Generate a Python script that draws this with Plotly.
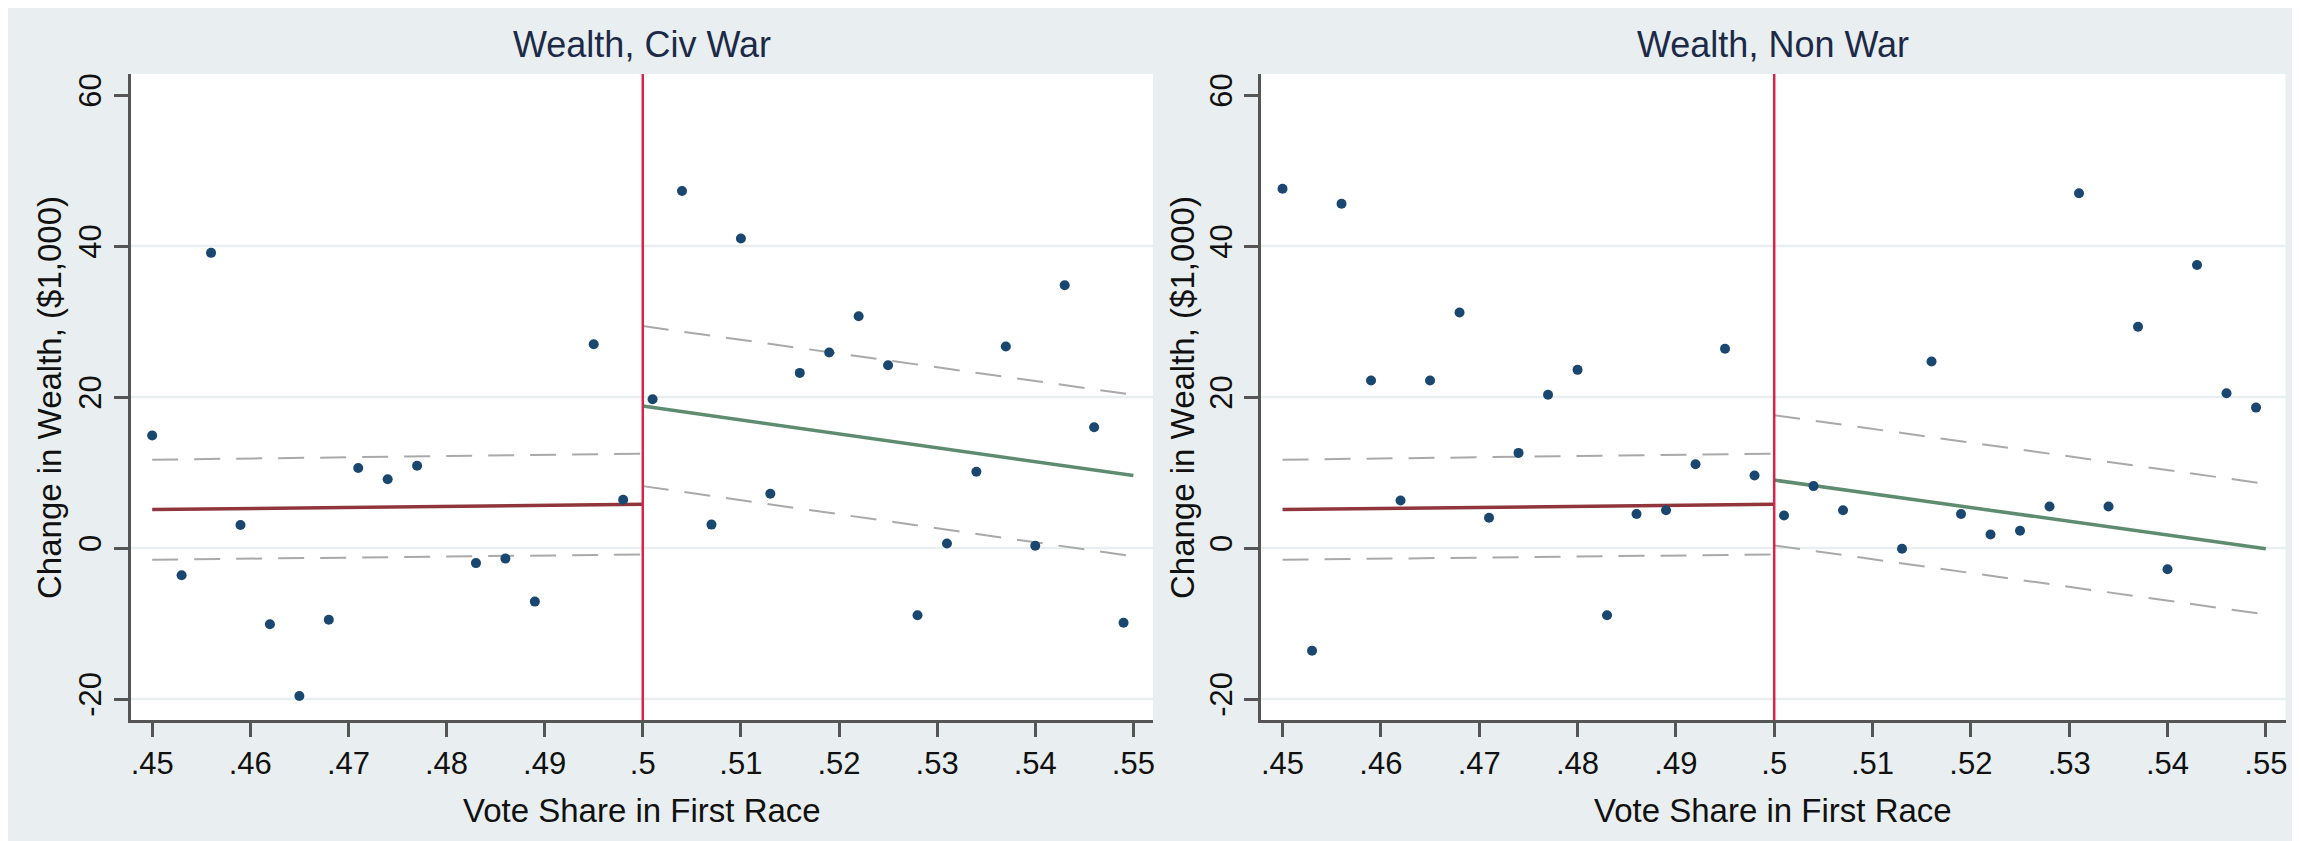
import plotly.graph_objects as go

# ---------------- data ----------------
panel_titles = ["Wealth, Civ War", "Wealth, Non War"]
x_title = "Vote Share in First Race"
y_title = "Change in Wealth, ($1,000)"

x_ticks = [0.45, 0.46, 0.47, 0.48, 0.49, 0.50, 0.51, 0.52, 0.53, 0.54, 0.55]
x_ticklabels = [".45", ".46", ".47", ".48", ".49", ".5", ".51", ".52", ".53", ".54", ".55"]
y_ticks = [-20, 0, 20, 40, 60]
y_ticklabels = ["-20", "0", "20", "40", "60"]
grid_values = [-20, 0, 20, 40]
cutoff = 0.5

# Panel 1: Civ War
civ_x = [0.450, 0.453, 0.456, 0.459, 0.462, 0.465, 0.468, 0.471, 0.474, 0.477,
         0.483, 0.486, 0.489, 0.495, 0.498, 0.501, 0.504, 0.507, 0.510, 0.513,
         0.516, 0.519, 0.522, 0.525, 0.528, 0.531, 0.534, 0.537, 0.540, 0.543,
         0.546, 0.549]
civ_y = [14.9, -3.6, 39.1, 3.05, -10.1, -19.6, -9.5, 10.6, 9.1, 10.9,
         -2.0, -1.4, -7.1, 27.0, 6.4, 19.7, 47.3, 3.1, 41.0, 7.2,
         23.2, 25.9, 30.7, 24.2, -8.9, 0.6, 10.1, 26.7, 0.3, 34.8,
         16.0, -9.9]

# Panel 2: Non War
non_x = [0.450, 0.453, 0.456, 0.459, 0.462, 0.465, 0.468, 0.471, 0.474, 0.477,
         0.480, 0.483, 0.486, 0.489, 0.492, 0.495, 0.498, 0.501, 0.504, 0.507,
         0.513, 0.516, 0.519, 0.522, 0.525, 0.528, 0.531, 0.534, 0.537, 0.540,
         0.543, 0.546, 0.549]
non_y = [47.6, -13.6, 45.6, 22.2, 6.3, 22.2, 31.2, 4.0, 12.6, 20.3,
         23.6, -8.9, 4.5, 5.0, 11.1, 26.4, 9.6, 4.3, 8.2, 5.0,
         -0.1, 24.7, 4.5, 1.8, 2.3, 5.5, 47.0, 5.5, 29.3, -2.8,
         37.5, 20.5, 18.6]

# Fitted lines and confidence bands (endpoints)
left_fit_x = [0.45, 0.50]
right_fit_x = [0.50, 0.55]

civ_left_fit = [5.1, 5.8]
civ_left_hi = [11.7, 12.5]
civ_left_lo = [-1.55, -0.85]
civ_right_fit = [18.8, 9.6]
civ_right_hi = [29.4, 20.3]
civ_right_lo = [8.2, -1.1]

non_left_fit = [5.1, 5.8]
non_left_hi = [11.7, 12.5]
non_left_lo = [-1.55, -0.85]
non_right_fit = [9.0, -0.1]
non_right_hi = [17.6, 8.5]
non_right_lo = [0.35, -8.8]

# ---------------- styles ----------------
BG = "#e9eff0"
GRID = "#e9eff0"
AXIS = "#555555"
NAVY = "#1a476f"
MAROON = "#90353b"
GREEN = "#5e8c70"
CRIMSON = "#d6254a"
CIGRAY = "#a9a9a9"
FONT = "Liberation Sans, Arial, Helvetica, sans-serif"
TITLE_COLOR = "#1c2a48"

W, H = 2300, 841
x_domains = [[122.7 / W, 1146.0 / W], [1254.0 / W, 2279.5 / W]]
y_domain = [(H - 712.0) / H, (H - 65.0) / H]

fig = go.Figure()

panels = [
    (civ_x, civ_y, civ_left_fit, civ_left_hi, civ_left_lo, civ_right_fit, civ_right_hi, civ_right_lo),
    (non_x, non_y, non_left_fit, non_left_hi, non_left_lo, non_right_fit, non_right_hi, non_right_lo),
]

for i, (px, py, lf, lh, ll, rf, rh, rl) in enumerate(panels):
    xa = "x" if i == 0 else "x2"
    ya = "y" if i == 0 else "y2"
    dash_style = dict(color=CIGRAY, width=2, dash="26px,16px")
    for yy in (lh, ll):
        fig.add_trace(go.Scatter(x=left_fit_x, y=yy, mode="lines", line=dash_style,
                                 xaxis=xa, yaxis=ya, showlegend=False, hoverinfo="skip"))
    for yy in (rh, rl):
        fig.add_trace(go.Scatter(x=right_fit_x, y=yy, mode="lines", line=dash_style,
                                 xaxis=xa, yaxis=ya, showlegend=False, hoverinfo="skip"))
    fig.add_trace(go.Scatter(x=left_fit_x, y=lf, mode="lines", line=dict(color=MAROON, width=3.5),
                             xaxis=xa, yaxis=ya, showlegend=False))
    fig.add_trace(go.Scatter(x=right_fit_x, y=rf, mode="lines", line=dict(color=GREEN, width=3.5),
                             xaxis=xa, yaxis=ya, showlegend=False))
    fig.add_trace(go.Scatter(x=px, y=py, mode="markers",
                             marker=dict(color=NAVY, size=10, line=dict(width=0)),
                             xaxis=xa, yaxis=ya, showlegend=False))

    # grid lines
    for g in grid_values:
        fig.add_shape(type="line", xref=f"{xa} domain", yref=ya, x0=0, x1=1, y0=g, y1=g,
                      line=dict(color=GRID, width=2.5), layer="below")
    # cutoff line
    fig.add_shape(type="line", xref=xa, yref=f"{ya} domain", x0=cutoff, x1=cutoff, y0=0, y1=1,
                  line=dict(color=CRIMSON, width=2.5), layer="above")

    cx = (x_domains[i][0] + x_domains[i][1]) / 2
    fig.add_annotation(text=panel_titles[i], xref="paper", yref="paper", x=cx, y=1 - 36.0 / H,
                       showarrow=False, font=dict(size=36, color=TITLE_COLOR, family=FONT),
                       xanchor="center", yanchor="middle")
    fig.add_annotation(text=x_title, xref="paper", yref="paper", x=cx, y=1 - 802.0 / H,
                       showarrow=False, font=dict(size=33, color="#111111", family=FONT),
                       xanchor="center", yanchor="middle")
    yx = 41.0 / W if i == 0 else 1175.0 / W
    fig.add_annotation(text=y_title, xref="paper", yref="paper", x=yx,
                       y=(y_domain[0] + y_domain[1]) / 2, textangle=-90,
                       showarrow=False, font=dict(size=33, color="#111111", family=FONT),
                       xanchor="center", yanchor="middle")

axis_common = dict(showline=True, linecolor=AXIS, linewidth=2.5, ticks="outside",
                   ticklen=14, tickwidth=2.5, tickcolor=AXIS, showgrid=False, zeroline=False,
                   mirror=False, tickfont=dict(size=31, color="#111111", family=FONT))

for i in range(2):
    xk = "xaxis" if i == 0 else "xaxis2"
    yk = "yaxis" if i == 0 else "yaxis2"
    fig.update_layout(**{
        xk: dict(domain=x_domains[i], range=[0.4478, 0.552], tickvals=x_ticks,
                 ticktext=x_ticklabels, anchor="y" if i == 0 else "y2", **axis_common),
        yk: dict(domain=y_domain, range=[-22.8, 62.8], tickvals=y_ticks,
                 ticktext=y_ticklabels, tickangle=-90, anchor="x" if i == 0 else "x2",
                 **axis_common),
    })

fig.update_layout(width=W, height=H, margin=dict(l=0, r=0, t=0, b=0),
                  paper_bgcolor=BG, plot_bgcolor="white", showlegend=False,
                  font=dict(family=FONT))

fig.write_html("out.html")
